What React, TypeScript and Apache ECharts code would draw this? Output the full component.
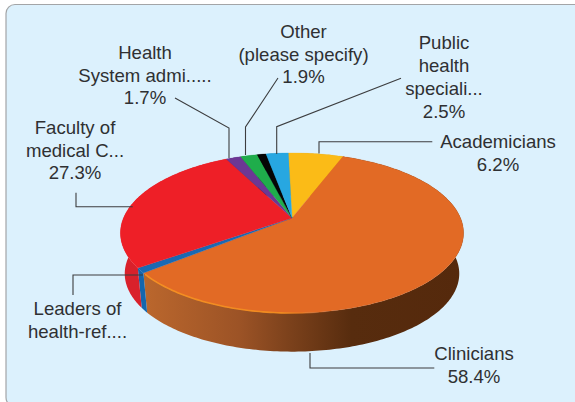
import React, { useEffect, useRef } from "react";
import * as echarts from "echarts";

const sliceNames = ["Academicians", "Clinicians", "Leaders of health-ref....", "Faculty of medical C...", "Health System admi.....", "Other (please specify)", "Unlabelled", "Public health speciali..."];
const sliceValues = [6.2, 58.4, 1.0, 27.3, 1.7, 1.9, 1.0, 2.5];
const topColors = ["#fbbb17", "#e26a25", "#1a69b3", "#ee1f27", "#6d3794", "#1fad4b", "#050505", "#27a7e1"];
const wallColors = ["#d79a10", "", "#1566ad", "#d9212b", "#5a2c7c", "#188a3c", "#000000", "#1f8abd"];
const wallStops = [
  { offset: 0, color: "#bb672d" },
  { offset: 0.3, color: "#9c5326" },
  { offset: 0.45, color: "#7d421c" },
  { offset: 0.65, color: "#572c0e" },
  { offset: 1, color: "#55290c" },
];
const labelTexts = [
  { text: "Other\n(please specify)\n1.9%", x: 303.5, y: 54 },
  { text: "Public\nhealth\nspeciali...\n2.5%", x: 444, y: 77 },
  { text: "Academicians\n6.2%", x: 498, y: 153 },
  { text: "Health\nSystem admi.....\n1.7%", x: 145, y: 75 },
  { text: "Faculty of\nmedical C...\n27.3%", x: 75, y: 150 },
  { text: "Leaders of\nhealth-ref....", x: 77.5, y: 320 },
  { text: "Clinicians\n58.4%", x: 474, y: 365 },
];
const leaderLines = [
  [[175, 98], [229, 128], [229, 158]],
  [[278, 78], [245.5, 127], [245.5, 155]],
  [[401, 78.3], [276.7, 126.7], [276.7, 154]],
  [[432.3, 141.7], [319, 141.7], [319, 153.5]],
  [[76, 192.7], [76, 206.7], [132.7, 206.7]],
  [[73, 295], [73, 275], [143, 275]],
  [[310, 353], [310, 368], [434.3, 368]],
];

const CX = 292;
const APEX_Y = 218;
const A = 168.5;
const B = 77.2;
const K = 0.1875;
const DEPTH = 41;
const WALL_SCALE = 0.975;
const START_DEG = -1.5;
const total = sliceValues.reduce((s, v) => s + v, 0);

function rim(deg: number, s = 1, dy = 0): number[] {
  const r = (deg * Math.PI) / 180;
  const u = Math.sin(r);
  const v = -Math.cos(r);
  const w = 1 - K * v;
  return [CX + (s * A * u) / w, APEX_Y + (s * B * v) / w + dy];
}

function sliceRange(index: number): number[] {
  let sum = 0;
  for (let i = 0; i < index; i++) sum += sliceValues[i];
  return [START_DEG + (sum / total) * 360, START_DEG + ((sum + sliceValues[index]) / total) * 360];
}

function arcPoints(a: number, b: number, s = 1, dy = 0): number[][] {
  const n = Math.max(2, Math.ceil(Math.abs(b - a)));
  const pts: number[][] = [];
  for (let i = 0; i <= n; i++) pts.push(rim(a + ((b - a) * i) / n, s, dy));
  return pts;
}

export default function App() {
  const ref = useRef<HTMLDivElement>(null);
  useEffect(() => {
    const chart = echarts.init(ref.current!, undefined, { renderer: "svg" });
    const data = sliceValues.map((v, i) => ({ name: sliceNames[i], value: [i, v] }));
    chart.setOption({
      animation: false,
      backgroundColor: "#ffffff",
      series: [
        {
          type: "custom",
          coordinateSystem: "none",
          silent: true,
          z: 2,
          data,
          renderItem: (_p: any, api: any) => {
            const i = api.value(0);
            const [a, b] = sliceRange(i);
            const pts = [...arcPoints(a, b), ...arcPoints(a, b, WALL_SCALE, DEPTH).reverse()];
            const fill = wallColors[i] || new echarts.graphic.LinearGradient(0, 0, 1, 0, wallStops);
            return { type: "polygon", shape: { points: pts }, style: { fill, stroke: null } };
          },
        },
        {
          type: "custom",
          coordinateSystem: "none",
          silent: true,
          z: 3,
          data,
          renderItem: (_p: any, api: any) => {
            const i = api.value(0);
            const [a, b] = sliceRange(i);
            const pts = [[CX, APEX_Y], ...arcPoints(a, b)];
            const children: any[] = [
              { type: "polygon", shape: { points: pts }, style: { fill: topColors[i], stroke: topColors[i], lineWidth: 0.3 } },
            ];
            if (i === 1) {
              children.push({
                type: "polyline",
                shape: { points: arcPoints(b - 1, b - 62) },
                style: {
                  fill: null,
                  lineWidth: 1.6,
                  stroke: new echarts.graphic.LinearGradient(0, 0, 1, 0, [
                    { offset: 0, color: "#f58f22" },
                    { offset: 0.75, color: "#f08a20" },
                    { offset: 1, color: "rgba(226,106,37,0)" },
                  ]),
                },
              });
            }
            return { type: "group", children };
          },
        },
      ],
      graphic: [
        {
          type: "rect",
          z: 0,
          silent: true,
          shape: { x: 6, y: 4.5, width: 600, height: 402, r: 9 },
          style: { fill: "#dcf1fd", stroke: "#a3a5a7", lineWidth: 1.2 },
        },
        ...leaderLines.map((points) => ({
          type: "polyline",
          z: 5,
          silent: true,
          shape: { points },
          style: { fill: null, stroke: "#3c3d3f", lineWidth: 1.1 },
        })),
        ...labelTexts.map((l) => ({
          type: "text",
          z: 6,
          silent: true,
          x: l.x,
          y: l.y,
          style: {
            text: l.text,
            fill: "#2f3032",
            font: '18.6px "Liberation Sans", Arial, sans-serif',
            lineHeight: 22.7,
            align: "center",
            verticalAlign: "middle",
          },
        })),
      ],
    });
    return () => chart.dispose();
  }, []);
  return <div ref={ref} style={{ position: "fixed", left: 0, top: 0, width: 575, height: 402 }} />;
}
